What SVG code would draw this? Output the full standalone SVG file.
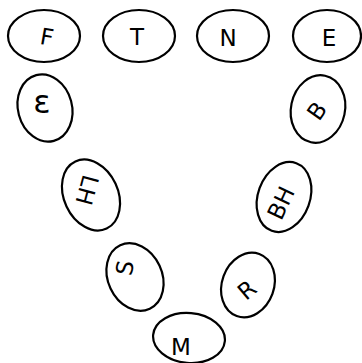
<svg xmlns="http://www.w3.org/2000/svg" width="362" height="363" viewBox="0 0 362 363">
<style>
.n ellipse{fill:none;stroke:#000;stroke-width:2.2}
.n text{font-family:"DejaVu Sans",sans-serif;font-size:23px;fill:#000;text-anchor:middle;dominant-baseline:central}
</style>
<rect width="362" height="363" fill="#fff"/>
<g id="connectors"></g>
<g id="F" class="n"><ellipse cx="44" cy="36" rx="36" ry="26"/><text x="47" y="37" transform="rotate(10 47 37)">F</text></g>
<g id="T" class="n"><ellipse cx="139" cy="36" rx="36" ry="26"/><text x="137" y="37">T</text></g>
<g id="N" class="n"><ellipse cx="233" cy="36" rx="36" ry="26"/><text x="228" y="38">N</text></g>
<g id="E" class="n"><ellipse cx="327" cy="36" rx="34" ry="26"/><text x="329" y="38">E</text></g>
<g id="eps" class="n"><ellipse cx="45" cy="108" rx="27" ry="34" transform="rotate(-15 45 108)"/><text x="42" y="102" style="font-size:32px">ε</text></g>
<g id="LH" class="n"><ellipse cx="91" cy="195" rx="27" ry="37" transform="rotate(-25 91 195)"/><text x="87" y="190" transform="rotate(105 87 190)">LH</text></g>
<g id="S" class="n"><ellipse cx="135" cy="277" rx="27" ry="35" transform="rotate(-25 135 277)"/><text x="125" y="268" transform="rotate(-80 125 268)">S</text></g>
<g id="M" class="n"><ellipse cx="189" cy="338" rx="36" ry="25" transform="rotate(5 189 338)"/><text x="181" y="347">M</text></g>
<g id="R" class="n"><ellipse cx="248" cy="285" rx="26" ry="33" transform="rotate(20 248 285)"/><text x="247" y="290" transform="rotate(-40 247 290)">R</text></g>
<g id="BH" class="n"><ellipse cx="284" cy="197" rx="26" ry="36" transform="rotate(20 284 197)"/><text x="281" y="203" transform="rotate(-65 281 203)">BH</text></g>
<g id="B" class="n"><ellipse cx="318" cy="109" rx="27" ry="34" transform="rotate(12 318 109)"/><text x="317" y="111" transform="rotate(-55 317 111)">B</text></g>
</svg>
